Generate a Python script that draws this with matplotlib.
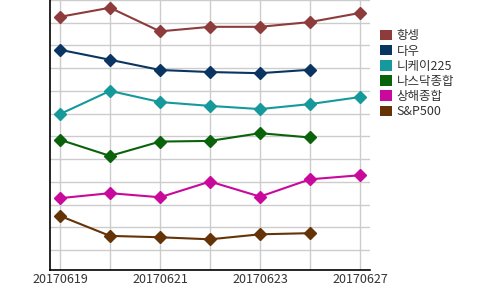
import matplotlib
matplotlib.use("Agg")
import matplotlib.pyplot as plt
from matplotlib.patches import Patch

plt.rcParams['font.family'] = ['Noto Sans CJK KR', 'DejaVu Sans']

dates = ['20170619', '20170620', '20170621', '20170622', '20170623', '20170626', '20170627']
names = ['항셍', '다우', '니케이225', '나스닥종합', '상해종합', 'S&P500']
colors = ['#8e3b3b', '#0a3563', '#16999b', '#0a630a', '#c8099c', '#663307']

hangseng = [11.26, 11.66, 10.62, 10.82, 10.82, 11.03, 11.43]
dow = [9.81, 9.37, 8.92, 8.83, 8.78, 8.93, None]
nikkei = [6.98, 8.00, 7.51, 7.34, 7.20, 7.42, 7.73]
nasdaq = [5.85, 5.14, 5.77, 5.80, 6.14, 5.95, None]
shanghai = [3.28, 3.50, 3.32, 4.01, 3.35, 4.11, 4.29]
sp500 = [2.50, 1.62, 1.56, 1.47, 1.69, 1.74, None]
series = [hangseng, dow, nikkei, nasdaq, shanghai, sp500]

fig = plt.figure(figsize=(5, 2.9), dpi=100)
ax = fig.add_axes([0.1, 0.069, 0.64, 0.931])

for vals, c in zip(series, colors):
    xs = [i for i, v in enumerate(vals) if v is not None]
    ys = [v for v in vals if v is not None]
    ax.plot(xs, ys, color=c, lw=1.5, marker='D', markersize=6.5, zorder=3)

ax.set_xlim(-0.2, 6.2)
ax.set_ylim(0.12, 12.0)
ax.set_yticks(range(1, 13))
ax.set_yticklabels([])
ax.set_xticks(range(len(dates)))
ax.set_xticklabels([d if i % 2 == 0 else '' for i, d in enumerate(dates)], fontsize=9, color='#333333')
ax.tick_params(length=0, pad=2)
ax.grid(True, color='#cccccc', lw=1)
ax.set_axisbelow(True)
for s in ['top', 'right']:
    ax.spines[s].set_visible(False)
for s in ['left', 'bottom']:
    ax.spines[s].set_color('black')
    ax.spines[s].set_linewidth(1.2)

handles = [Patch(facecolor=c, edgecolor='none') for c in colors]
fig.legend(handles, names, loc='upper left', bbox_to_anchor=(0.748, 0.92), frameon=False,
           fontsize=9, handlelength=0.9, handleheight=0.9, handletextpad=0.4,
           labelspacing=0.17, borderpad=0, labelcolor='#333333')

fig.savefig('out.png', dpi=100)
